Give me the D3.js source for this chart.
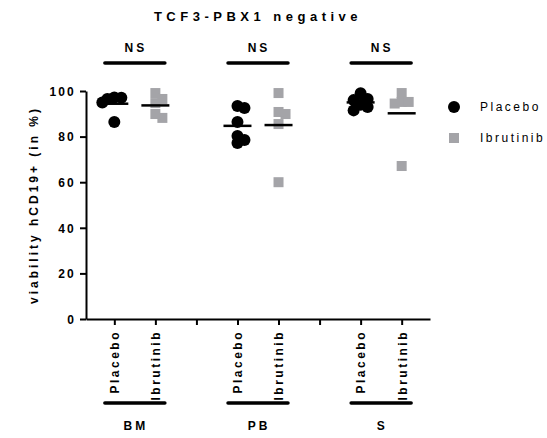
<!DOCTYPE html>
<html>
<head>
<meta charset="utf-8">
<script src="https://cdn.jsdelivr.net/npm/d3@7"></script>
<style>
  body { margin: 0; background: #fff; }
  svg { display: block; font-family: "Liberation Sans", Arial, sans-serif; }
  .axis path, .axis line { stroke: #000; stroke-width: 2; }
  .axis text { font-size: 12px; font-weight: bold; fill: #000; letter-spacing: 2.2px; }
</style>
</head>
<body>
<svg id="chart" width="547" height="438"></svg>
<script>
const title = "TCF3-PBX1 negative";
const yLabel = "viability hCD19+ (in %)";
const tissues = ["BM", "PB", "S"];
const treatments = ["Placebo", "Ibrutinib"];
const yTicks = [0, 20, 40, 60, 80, 100];
const sigLabels = ["NS", "NS", "NS"];

// values, per tissue
const placeboBM = [96.5, 97.2, 97, 95, 86.4];
const ibrutinibBM = [99.1, 96.5, 94.7, 88.2, 89.9];
const placeboPB = [92.5, 93.4, 86.4, 80.3, 77.2, 78.5];
const ibrutinibPB = [99.1, 89.9, 90.8, 85.5, 60];
const placeboS = [96.5, 99, 96, 94, 91.5, 93];
const ibrutinibS = [99.1, 95.2, 95.2, 94.5, 67.1];

const groupValues = {
  "BM|Placebo": placeboBM, "BM|Ibrutinib": ibrutinibBM,
  "PB|Placebo": placeboPB, "PB|Ibrutinib": ibrutinibPB,
  "S|Placebo": placeboS, "S|Ibrutinib": ibrutinibS
};

const grey = "#a4a4a8";
const svg = d3.select("#chart");

// slots on the x axis: two per tissue plus an empty slot between tissues
var slots = [];
tissues.forEach(function(t, i) {
  if (i > 0) slots.push("gap" + i);
  treatments.forEach(function(tr) { slots.push(t + "|" + tr); });
});

var x = d3.scalePoint().domain(slots).range([86, 430]).padding(0.69);
var y = d3.scaleLinear().domain([0, 100]).range([319, 91]);

// y axis
var yAxis = svg.append("g")
  .attr("class", "axis")
  .attr("transform", "translate(86,0)")
  .call(d3.axisLeft(y).tickValues(yTicks).tickSize(6).tickSizeOuter(0).tickPadding(4));
yAxis.selectAll("text").attr("dy", "0.36em");

// x axis
var xAxis = svg.append("g")
  .attr("class", "axis")
  .attr("transform", "translate(0,319)")
  .call(d3.axisBottom(x).tickSize(6).tickSizeOuter(0)
    .tickFormat(function(d) { return d.indexOf("|") < 0 ? "" : d.split("|")[1]; }));
xAxis.selectAll("text")
  .attr("transform", "rotate(-90)")
  .attr("text-anchor", "end")
  .attr("x", -11)
  .attr("y", 0)
  .attr("dy", "0.36em")
  .style("letter-spacing", "2.5px");

// title
svg.append("text")
  .attr("x", 258).attr("y", 21)
  .attr("text-anchor", "middle")
  .style("font-size", "13px").style("font-weight", "bold").style("letter-spacing", "4.5px")
  .text(title);

// y label
svg.append("text")
  .attr("transform", "translate(38,205) rotate(-90)")
  .attr("text-anchor", "middle")
  .style("font-size", "12px").style("font-weight", "bold").style("letter-spacing", "3px")
  .text(yLabel);

// simple dodge so overlapping points spread sideways
function dodge(values) {
  var order = values.map(function(v, i) { return i; })
    .sort(function(a, b) { return values[b] - values[a]; });
  var placed = [];
  var offs = new Array(values.length).fill(0);
  var steps = [0, 7, -7, 12, -12];
  order.forEach(function(i) {
    var py = y(values[i]);
    for (var k = 0; k < steps.length; k++) {
      var ok = placed.every(function(p) {
        var dx = p.x - steps[k], dy = p.y - py;
        return Math.sqrt(dx * dx + dy * dy) >= 7;
      });
      if (ok || k === steps.length - 1) { offs[i] = steps[k]; break; }
    }
    placed.push({ x: offs[i], y: py });
  });
  return offs;
}

var pts = svg.append("g");
Object.keys(groupValues).forEach(function(key) {
  var vals = groupValues[key];
  var cx = x(key);
  var offs = dodge(vals);
  var isPlacebo = key.split("|")[1] === "Placebo";
  vals.forEach(function(v, i) {
    if (isPlacebo) {
      pts.append("circle")
        .attr("cx", cx + offs[i]).attr("cy", y(v))
        .attr("r", 6).attr("fill", "#000");
    } else {
      pts.append("rect")
        .attr("x", cx + offs[i] - 5).attr("y", y(v) - 5)
        .attr("width", 10).attr("height", 10)
        .attr("fill", grey);
    }
  });
  var m = d3.mean(vals);
  pts.append("line")
    .attr("x1", cx - 14).attr("x2", cx + 14)
    .attr("y1", y(m)).attr("y2", y(m))
    .attr("stroke", "#000").attr("stroke-width", 2.5);
});

// significance bars and tissue labels
tissues.forEach(function(t, i) {
  var c = (x(t + "|Placebo") + x(t + "|Ibrutinib")) / 2;
  svg.append("line")
    .attr("x1", c - 30).attr("x2", c + 30).attr("y1", 63).attr("y2", 63)
    .attr("stroke", "#000").attr("stroke-width", 3.5).attr("stroke-linecap", "round");
  svg.append("text")
    .attr("x", c + 1).attr("y", 52).attr("text-anchor", "middle")
    .style("font-size", "12px").style("font-weight", "bold").style("letter-spacing", "3px")
    .text(sigLabels[i]);
  svg.append("line")
    .attr("x1", c - 30).attr("x2", c + 30).attr("y1", 403).attr("y2", 403)
    .attr("stroke", "#000").attr("stroke-width", 3.5).attr("stroke-linecap", "round");
  svg.append("text")
    .attr("x", c + 1).attr("y", 430).attr("text-anchor", "middle")
    .style("font-size", "12px").style("font-weight", "bold").style("letter-spacing", "3px")
    .text(t);
});

// legend
var legend = svg.append("g");
treatments.forEach(function(tr, i) {
  var ly = 107 + i * 31;
  if (tr === "Placebo") {
    legend.append("circle").attr("cx", 454).attr("cy", ly).attr("r", 6).attr("fill", "#000");
  } else {
    legend.append("rect").attr("x", 449).attr("y", ly - 5).attr("width", 10).attr("height", 10).attr("fill", grey);
  }
  legend.append("text")
    .attr("x", 480).attr("y", ly).attr("dy", "0.36em")
    .style("font-size", "12px").style("letter-spacing", "2.5px")
    .text(tr);
});
</script>
</body>
</html>
